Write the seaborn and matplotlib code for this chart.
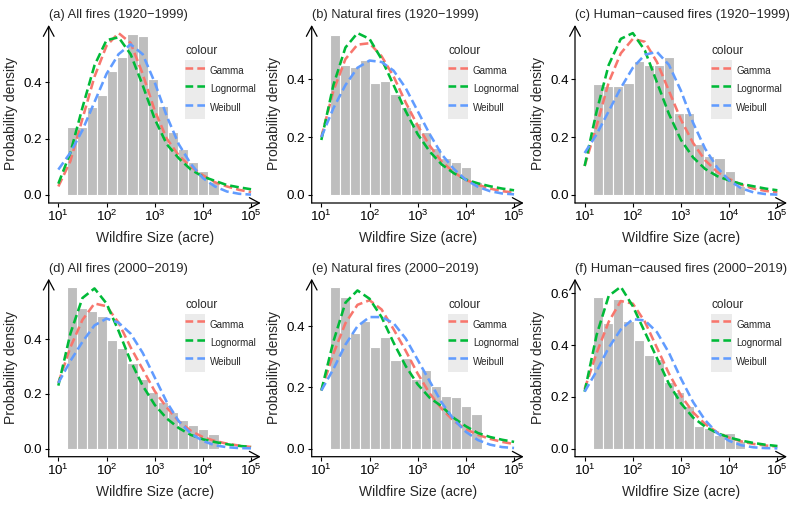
import numpy as np
import pandas as pd
import matplotlib
matplotlib.use('Agg')
import matplotlib.pyplot as plt
import seaborn as sns
from matplotlib.legend_handler import HandlerLine2D
from matplotlib.lines import Line2D
from matplotlib.patches import Rectangle

# log10(wildfire size) where the fitted curves were read
log_size = [1.0, 1.25, 1.5, 1.75, 2.0, 2.25, 2.5, 2.75, 3.0, 3.25, 3.5, 3.75, 4.0, 4.25, 4.5, 4.75, 5.0]

# histogram densities (15 bins in log10 space)
hist_a = [0.243, 0.243, 0.314, 0.356, 0.441, 0.491, 0.571, 0.566, 0.412, 0.317, 0.222, 0.163, 0.118, 0.084, 0.047]
hist_b = [0.552, 0.449, 0.441, 0.467, 0.386, 0.394, 0.348, 0.305, 0.249, 0.216, 0.161, 0.126, 0.114, 0.097, 0.044]
hist_c = [0.383, 0.376, 0.377, 0.389, 0.465, 0.449, 0.449, 0.477, 0.283, 0.283, 0.175, 0.133, 0.127, 0.082, 0.030]
hist_d = [0.591, 0.512, 0.504, 0.486, 0.395, 0.367, 0.311, 0.253, 0.208, 0.171, 0.135, 0.104, 0.086, 0.071, 0.053]
hist_e = [0.529, 0.496, 0.378, 0.417, 0.332, 0.364, 0.290, 0.297, 0.226, 0.258, 0.204, 0.173, 0.169, 0.140, 0.113]
hist_f = [0.584, 0.485, 0.577, 0.494, 0.421, 0.360, 0.347, 0.258, 0.220, 0.166, 0.086, 0.079, 0.054, 0.059, 0.028]

# fitted densities
gamma_a = [0.03, 0.12, 0.27, 0.42, 0.53, 0.575, 0.54, 0.43, 0.30, 0.20, 0.14, 0.10, 0.07, 0.045, 0.03, 0.018, 0.01]
lnorm_a = [0.04, 0.15, 0.31, 0.46, 0.55, 0.56, 0.50, 0.39, 0.27, 0.18, 0.13, 0.09, 0.065, 0.05, 0.035, 0.027, 0.02]
weib_a = [0.09, 0.15, 0.23, 0.33, 0.43, 0.50, 0.535, 0.50, 0.40, 0.28, 0.18, 0.11, 0.06, 0.03, 0.012, 0.004, 0.001]

gamma_b = [0.20, 0.36, 0.47, 0.52, 0.525, 0.48, 0.41, 0.32, 0.24, 0.17, 0.115, 0.078, 0.052, 0.035, 0.022, 0.013, 0.008]
lnorm_b = [0.19, 0.38, 0.51, 0.56, 0.54, 0.47, 0.38, 0.29, 0.21, 0.15, 0.105, 0.075, 0.053, 0.04, 0.03, 0.022, 0.016]
weib_b = [0.20, 0.30, 0.38, 0.44, 0.465, 0.46, 0.43, 0.37, 0.29, 0.21, 0.14, 0.09, 0.052, 0.028, 0.013, 0.005, 0.002]

gamma_c = [0.10, 0.24, 0.39, 0.49, 0.54, 0.53, 0.46, 0.36, 0.26, 0.18, 0.12, 0.08, 0.055, 0.035, 0.022, 0.014, 0.009]
lnorm_c = [0.10, 0.29, 0.45, 0.54, 0.56, 0.50, 0.39, 0.28, 0.19, 0.13, 0.09, 0.065, 0.05, 0.038, 0.03, 0.022, 0.016]
weib_c = [0.145, 0.21, 0.29, 0.37, 0.44, 0.485, 0.495, 0.45, 0.36, 0.25, 0.16, 0.095, 0.05, 0.023, 0.009, 0.003, 0.001]

gamma_d = [0.24, 0.37, 0.47, 0.53, 0.52, 0.46, 0.37, 0.29, 0.21, 0.15, 0.10, 0.065, 0.042, 0.028, 0.018, 0.011, 0.006]
lnorm_d = [0.23, 0.42, 0.55, 0.585, 0.53, 0.43, 0.32, 0.23, 0.16, 0.11, 0.075, 0.05, 0.034, 0.024, 0.016, 0.01, 0.006]
weib_d = [0.24, 0.32, 0.39, 0.45, 0.475, 0.46, 0.42, 0.35, 0.26, 0.17, 0.10, 0.055, 0.028, 0.012, 0.005, 0.002, 0.001]

gamma_e = [0.19, 0.31, 0.41, 0.47, 0.485, 0.455, 0.39, 0.32, 0.245, 0.18, 0.13, 0.09, 0.064, 0.045, 0.032, 0.022, 0.015]
lnorm_e = [0.19, 0.35, 0.477, 0.517, 0.49, 0.43, 0.346, 0.27, 0.21, 0.166, 0.138, 0.10, 0.073, 0.051, 0.038, 0.029, 0.022]
weib_e = [0.19, 0.26, 0.34, 0.40, 0.43, 0.43, 0.41, 0.36, 0.29, 0.22, 0.15, 0.095, 0.055, 0.028, 0.013, 0.005, 0.002]

gamma_f = [0.23, 0.37, 0.49, 0.57, 0.56, 0.49, 0.39, 0.29, 0.205, 0.14, 0.095, 0.063, 0.042, 0.028, 0.018, 0.012, 0.008]
lnorm_f = [0.22, 0.44, 0.59, 0.625, 0.55, 0.45, 0.35, 0.25, 0.175, 0.12, 0.085, 0.06, 0.043, 0.031, 0.022, 0.015, 0.01]
weib_f = [0.22, 0.30, 0.39, 0.46, 0.50, 0.495, 0.45, 0.37, 0.27, 0.18, 0.11, 0.06, 0.03, 0.013, 0.005, 0.002, 0.001]

titles = ['(a) All fires (1920\u22121999)', '(b) Natural fires (1920\u22121999)',
          '(c) Human\u2212caused fires (1920\u22121999)', '(d) All fires (2000\u22122019)',
          '(e) Natural fires (2000\u22122019)', '(f) Human\u2212caused fires (2000\u22122019)']
hists = [hist_a, hist_b, hist_c, hist_d, hist_e, hist_f]
fits = [(gamma_a, lnorm_a, weib_a), (gamma_b, lnorm_b, weib_b), (gamma_c, lnorm_c, weib_c),
        (gamma_d, lnorm_d, weib_d), (gamma_e, lnorm_e, weib_e), (gamma_f, lnorm_f, weib_f)]
dist_names = ['Gamma', 'Lognormal', 'Weibull']
palette = {'Gamma': '#F8766D', 'Lognormal': '#00BA38', 'Weibull': '#619CFF'}

BIN_START, BIN_W = 1.175, 0.21
edges = [BIN_START + BIN_W * k for k in range(16)]
mids = [e + BIN_W / 2 for e in edges[:-1]]
DASH = (0, (3.4, 1.6))
LW = 1.85

sns.set_theme(style='white')
plt.rcParams['font.family'] = ['Liberation Sans', 'DejaVu Sans']
plt.rcParams['mathtext.default'] = 'regular'


class KeyHandler(HandlerLine2D):
    # grey key background like ggplot
    def create_artists(self, legend, orig_handle, xdescent, ydescent, width, height, fontsize, trans):
        bg = Rectangle((-xdescent, -ydescent - 1), width, height + 2, facecolor='#EBEBEB',
                       edgecolor='none', transform=trans)
        arts = super().create_artists(legend, orig_handle, xdescent, ydescent, width, height, fontsize, trans)
        return [bg] + list(arts)


W, H = 794, 509
fig = plt.figure(figsize=(W / 100, H / 100), dpi=100)
lefts = [48.7, 311.7, 575.0]
bottoms = [203.0, 456.7]
aw, ah = 212.0, 178.0

for i in range(6):
    r, c = divmod(i, 3)
    ax = fig.add_axes([lefts[c] / W, 1 - bottoms[r] / H, aw / W, ah / H])
    dfh = pd.DataFrame({'mid': mids, 'dens': hists[i]})
    sns.histplot(data=dfh, x='mid', weights='dens', bins=edges, stat='count', color='#BEBEBE',
                 alpha=1, edgecolor='white', linewidth=0.8, ax=ax)
    df = pd.DataFrame({'log_size': log_size * 3,
                       'density': fits[i][0] + fits[i][1] + fits[i][2],
                       'dist': np.repeat(dist_names, len(log_size))})
    sns.lineplot(data=df, x='log_size', y='density', hue='dist', palette=palette, lw=LW,
                 linestyle=DASH, errorbar=None, legend=False, ax=ax)

    top = max(max(hists[i]), max(max(f) for f in fits[i]))
    ax.set_ylim(-0.05 * top, 1.05 * top)
    ax.set_xlim(0.8, 5.2)
    ax.set_xticks([1, 2, 3, 4, 5])
    ax.set_xticklabels([r'$10^{%d}$' % k for k in range(1, 6)])
    yt = [0.0, 0.2, 0.4, 0.6] if top > 0.6 else [0.0, 0.2, 0.4]
    ax.set_yticks(yt)
    ax.set_yticklabels(['%.1f' % v for v in yt])
    ax.tick_params(axis='both', length=3, width=0.8, direction='out', labelsize=9.6,
                   pad=1.5, colors='black', bottom=True, left=True)
    ax.set_xlabel('Wildfire Size (acre)', fontsize=10, labelpad=5)
    ax.set_ylabel('Probability density', fontsize=10, labelpad=4)
    ax.set_title(titles[i], loc='left', fontsize=9.3, pad=5)
    for s in ax.spines.values():
        s.set_visible(False)
    arrow = dict(arrowstyle='->,head_length=0.6,head_width=0.32', lw=0.9, color='black',
                 shrinkA=0, shrinkB=0)
    ax.annotate('', xy=(0, 1), xytext=(0, 0), xycoords='axes fraction', arrowprops=arrow)
    ax.annotate('', xy=(1, 0), xytext=(0, 0), xycoords='axes fraction', arrowprops=arrow)

    handles = [Line2D([], [], color=palette[n], lw=LW, linestyle=(0, (3.0, 1.6))) for n in dist_names]
    leg = ax.legend(handles, dist_names, title='colour', loc='upper left',
                    bbox_to_anchor=(0.643, 0.885), frameon=False, fontsize=7, title_fontsize=8.5,
                    handlelength=2.1, handleheight=2.55, labelspacing=0, handletextpad=0.45,
                    borderpad=0, borderaxespad=0, alignment='left',
                    handler_map={Line2D: KeyHandler()})
    leg._legend_box.sep = 3

fig.savefig('out.png', dpi=100)
